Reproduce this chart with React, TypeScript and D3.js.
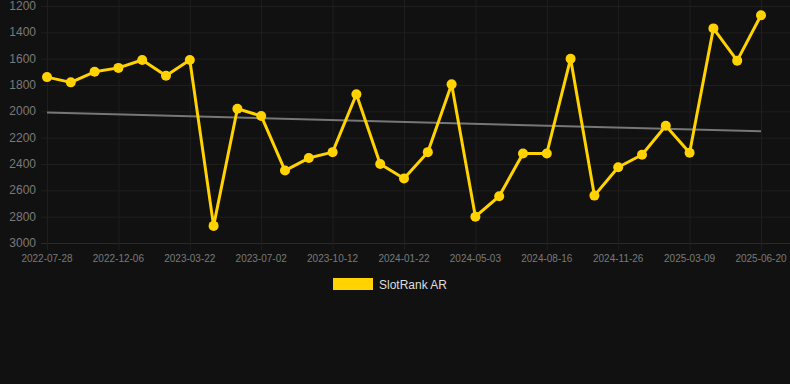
import React from "react";
import * as d3 from "d3";

const dates = [
  "2022-07-28", "2022-09-10", "2022-10-23", "2022-12-06", "2023-01-10", "2023-02-15",
  "2023-03-22", "2023-04-26", "2023-05-28", "2023-07-02", "2023-08-05", "2023-09-08",
  "2023-10-12", "2023-11-15", "2023-12-19", "2024-01-22", "2024-02-24", "2024-03-30",
  "2024-05-03", "2024-06-06", "2024-07-12", "2024-08-16", "2024-09-18", "2024-10-22",
  "2024-11-26", "2024-12-30", "2025-02-02", "2025-03-09", "2025-04-12", "2025-05-16",
  "2025-06-20",
];

const rankAR = [
  1740, 1780, 1700, 1670, 1610, 1730, 1610, 2870, 1980, 2035, 2450, 2355, 2310, 1870,
  2400, 2510, 2310, 1795, 2800, 2645, 2320, 2320, 1600, 2640, 2425, 2330, 2110, 2315,
  1370, 1615, 1270,
];

const yTicks = [1200, 1400, 1600, 1800, 2000, 2200, 2400, 2600, 2800, 3000];
const seriesName = "SlotRank AR";

export default function App() {
  const W = 790, H = 384;
  const x = d3.scalePoint<string>().domain(dates).range([47, 761]);
  const y = d3.scaleLinear().domain([1200, 3000]).range([6, 243]);

  const n = rankAR.length;
  const xs = d3.range(n);
  const mx = d3.mean(xs)!;
  const my = d3.mean(rankAR)!;
  const slope = d3.sum(xs, (i) => (i - mx) * (rankAR[i] - my)) / d3.sum(xs, (i) => (i - mx) ** 2);
  const icpt = my - slope * mx;

  const line = d3
    .line<number>()
    .x((_, i) => x(dates[i])!)
    .y((d) => y(d));

  const font = "'Liberation Sans', Arial, Helvetica, sans-serif";
  const labelIdx = dates.map((_, i) => i).filter((i) => i % 3 === 0);

  return (
    <svg width={W} height={H} style={{ position: "absolute", left: 0, top: 0, background: "#111111" }}>
      <rect x={0} y={0} width={W} height={H} fill="#111111" />
      {yTicks.map((t) => (
        <g key={t}>
          <line x1={41} x2={790} y1={y(t) + 0.5} y2={y(t) + 0.5} stroke={t === 3000 ? "#2a2a2a" : "#1f1f1f"} strokeWidth={1} />
          <text x={36} y={y(t) + 4} textAnchor="end" fill="#7a7a7a" fontSize={12} fontFamily={font}>
            {t}
          </text>
        </g>
      ))}
      {labelIdx.map((i) => (
        <g key={dates[i]}>
          <line x1={x(dates[i])! + 0.5} x2={x(dates[i])! + 0.5} y1={0} y2={250} stroke="#1f1f1f" strokeWidth={1} />
          <text x={x(dates[i])!} y={262} textAnchor="middle" fill="#7a7a7a" fontSize={10} fontFamily={font}>
            {dates[i]}
          </text>
        </g>
      ))}
      <line
        x1={x(dates[0])!}
        y1={y(icpt)}
        x2={x(dates[n - 1])!}
        y2={y(icpt + slope * (n - 1))}
        stroke="#777777"
        strokeWidth={2}
      />
      <path d={line(rankAR) || ""} fill="none" stroke="#FFD200" strokeWidth={3} strokeLinejoin="round" />
      {rankAR.map((v, i) => (
        <circle key={i} cx={x(dates[i])!} cy={y(v)} r={5} fill="#FFD200" />
      ))}
      <rect x={333} y={278} width={40} height={12} fill="#FFD200" />
      <text x={379} y={289} fill="#dddddd" fontSize={12} fontFamily={font}>
        {seriesName}
      </text>
    </svg>
  );
}
